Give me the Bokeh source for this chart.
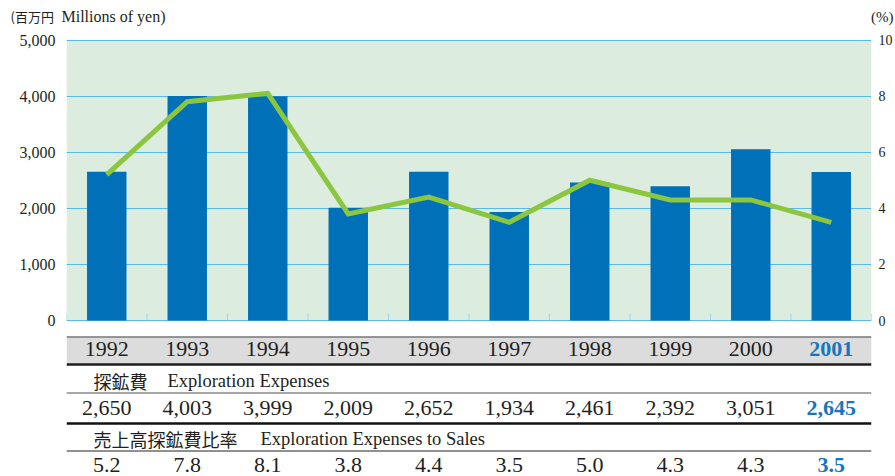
from bokeh.plotting import figure
from bokeh.layouts import column
from bokeh.models import (Range1d, LinearAxis, FixedTicker, NumeralTickFormatter,
                          ColumnDataSource)
from bokeh.core.properties import value
from bokeh.embed import file_html
from bokeh.resources import INLINE

# ---------------- data ----------------
years = ["1992", "1993", "1994", "1995", "1996", "1997", "1998", "1999", "2000", "2001"]
expenses = [2650, 4003, 3999, 2009, 2652, 1934, 2461, 2392, 3051, 2645]
ratio = [5.2, 7.8, 8.1, 3.8, 4.4, 3.5, 5.0, 4.3, 4.3, 3.5]
left_ticks = [0, 1000, 2000, 3000, 4000, 5000]
right_ticks = [0, 2, 4, 6, 8, 10]

# ---------------- layout helpers ----------------
W, H = 895, 476
HDR = 30                   # height of the unit-label strip
B_LEFT, B_RIGHT = 66, 24
PX = 5000 / 280.5          # data units per pixel (left axis)
Y0 = 320                   # page y of value 0
XSTEP = 80.5               # pixels per category
TEXT = "#231f20"
BLUE = "#1677bf"
SERIF = "Liberation Serif"
CJK = "Noto Sans CJK JP"


def ypx(py):
    return (Y0 - py) * PX


def xpx(px):
    return (px - B_LEFT) / XSTEP - 0.5


n = len(years)
xs = list(range(n))
colors = [TEXT] * (n - 1) + [BLUE]
styles = ["normal"] * (n - 1) + ["bold"]

src = ColumnDataSource(dict(
    x=xs, year=years, exp=expenses, ratio=ratio,
    exp_lbl=[f"{v:,}" for v in expenses],
    ratio_lbl=[f"{v:.1f}" for v in ratio],
    color=colors, style=styles,
))

# ---------------- header strip with unit labels ----------------
hdr = figure(frame_width=W, frame_height=HDR, output_backend="svg", toolbar_location=None,
             x_range=Range1d(0, W), y_range=Range1d(HDR, 0),
             x_axis_location=None, y_axis_location=None,
             min_border_left=0, min_border_right=0, min_border_top=0, min_border_bottom=0)
if "frame_align" in hdr.properties():
    hdr.frame_align = False
hdr.outline_line_color = None
hdr.grid.visible = False
hdr.text(x=[10], y=[16], text=["(百万円"], text_align="left", text_baseline="middle",
         text_font=value(CJK), text_font_size="13px", text_color=TEXT)
hdr.text(x=[61], y=[16], text=["Millions of yen)"], text_align="left", text_baseline="middle",
         text_font=value(SERIF), text_font_size="16px", text_color=TEXT)
hdr.text(x=[893], y=[16], text=["(%)"], text_align="right", text_baseline="middle",
         text_font=value(SERIF), text_font_size="15px", text_color=TEXT)

# ---------------- main chart ----------------
p = figure(width=W, height=H - HDR, output_backend="svg", toolbar_location=None,
           x_range=Range1d(-0.5, n - 0.5),
           y_range=Range1d(ypx(H), ypx(HDR)),
           x_axis_location=None,
           min_border_left=B_LEFT, min_border_right=B_RIGHT,
           min_border_top=0, min_border_bottom=0)
if "frame_align" in p.properties():
    p.frame_align = False
p.extra_y_ranges = {"pct": Range1d(ypx(H) / 500, ypx(HDR) / 500)}
p.outline_line_color = None
p.xgrid.visible = False
p.ygrid.ticker = FixedTicker(ticks=left_ticks)
p.ygrid.grid_line_color = "#5cb8e6"
p.ygrid.grid_line_width = 1

# left axis
ax = p.yaxis[0]
ax.ticker = FixedTicker(ticks=left_ticks)
ax.formatter = NumeralTickFormatter(format="0,0")
ax.axis_line_color = None
ax.major_tick_line_color = None
ax.minor_tick_line_color = None
ax.major_tick_out = 0
ax.major_label_standoff = 11
ax.major_label_text_font = SERIF
ax.major_label_text_font_size = "16px"
ax.major_label_text_color = TEXT

# right axis
rax = LinearAxis(y_range_name="pct", ticker=FixedTicker(ticks=right_ticks))
rax.axis_line_color = None
rax.major_tick_line_color = None
rax.minor_tick_line_color = None
rax.major_tick_out = 0
rax.major_label_standoff = 7
rax.major_label_text_font = SERIF
rax.major_label_text_font_size = "14px"
rax.major_label_text_color = TEXT
p.add_layout(rax, "right")

# chart background
p.quad(left=-0.5, right=n - 0.5, bottom=0, top=left_ticks[-1],
       fill_color="#dcecde", line_color=None, level="image")

# bars
p.vbar(x="x", top="exp", width=0.49, source=src, fill_color="#0071b9", line_color=None)

# small boundary ticks
bounds = [i - 0.5 for i in range(n + 1)]
p.segment(x0=bounds, x1=bounds, y0=[0] * len(bounds), y1=[7 * PX] * len(bounds),
          line_color="#9fd2ee", line_width=1)

# ratio line
p.line(x="x", y="ratio", source=src, y_range_name="pct",
       line_color="#8cc63f", line_width=5, line_join="miter")

# ---------------- table ----------------
p.quad(left=-0.5, right=n - 0.5, top=ypx(336), bottom=ypx(364),
       fill_color="#dcdcdc", line_color=None)
p.segment(x0=-0.5, x1=n - 0.5, y0=ypx(336.5), y1=ypx(336.5), line_color="#7a7a7a", line_width=1.5)
p.segment(x0=-0.5, x1=n - 0.5, y0=ypx(364), y1=ypx(364), line_color="#1e1e1e", line_width=2.5)
p.segment(x0=-0.5, x1=n - 0.5, y0=ypx(392.5), y1=ypx(392.5), line_color="#8a8a8a", line_width=1.5)
p.segment(x0=-0.5, x1=n - 0.5, y0=ypx(423), y1=ypx(423), line_color="#111111", line_width=2.5)
p.segment(x0=-0.5, x1=n - 0.5, y0=ypx(450.5), y1=ypx(450.5), line_color="#222222", line_width=1.2)

for col, yy in (("year", 348.5), ("exp_lbl", 407), ("ratio_lbl", 464)):
    p.text(x="x", y=ypx(yy), text=col, source=src, text_align="center",
           text_baseline="middle", text_font=value(SERIF),
           text_font_size="22px", text_color="color", text_font_style="style")

# row headers
p.text(x=[xpx(93)], y=[ypx(380)], text=["探鉱費"], text_align="left", text_baseline="middle",
       text_font=value(CJK), text_font_size="18px", text_color=TEXT)
p.text(x=[xpx(167)], y=[ypx(380)], text=["Exploration Expenses"], text_align="left",
       text_baseline="middle", text_font=value(SERIF), text_font_size="18.5px",
       text_color=TEXT)
p.text(x=[xpx(93)], y=[ypx(438.5)], text=["売上高探鉱費比率"], text_align="left",
       text_baseline="middle", text_font=value(CJK), text_font_size="18px",
       text_color=TEXT)
p.text(x=[xpx(260)], y=[ypx(438.5)], text=["Exploration Expenses to Sales"], text_align="left",
       text_baseline="middle", text_font=value(SERIF), text_font_size="18.5px",
       text_color=TEXT)

layout = column(hdr, p, spacing=0)
open("out.html", "w").write(file_html(layout, INLINE))
